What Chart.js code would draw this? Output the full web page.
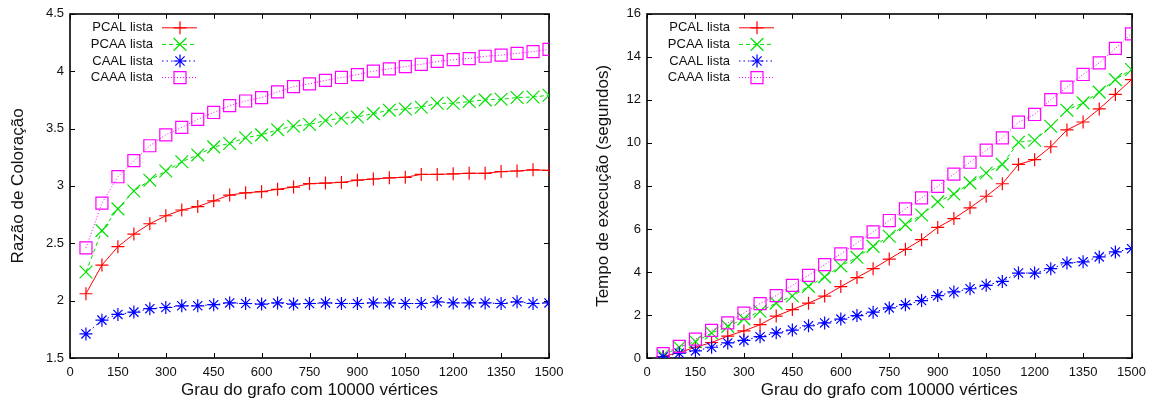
<!DOCTYPE html>
<html>
<head>
<meta charset="utf-8">
<title>Razão de coloração e tempo de execução</title>
<script src="https://cdn.jsdelivr.net/npm/chart.js@4.4.1/dist/chart.umd.min.js"></script>
<style>
  html, body { margin: 0; padding: 0; background: #fff; }
  #wrap { position: relative; width: 1153px; height: 403px; }
  .panel { position: absolute; top: 0; width: 576px; height: 403px; }
</style>
</head>
<body>
<div id="wrap">
  <div class="panel" style="left:0"><canvas id="ratioChart" width="576" height="403"></canvas></div>
  <div class="panel" style="left:577px"><canvas id="timeChart" width="576" height="403"></canvas></div>
</div>
<script>
// grau do grafo (10000 vértices)
var degrees = [50, 100, 150, 200, 250, 300, 350, 400, 450, 500, 550, 600, 650, 700, 750,
               800, 850, 900, 950, 1000, 1050, 1100, 1150, 1200, 1250, 1300, 1350, 1400, 1450, 1500];

var seriesNames = ['PCAL lista', 'PCAA lista', 'CAAL lista', 'CAAA lista'];

// razão de coloração
var ratioPCAL = [2.06, 2.31, 2.47, 2.58, 2.67, 2.74, 2.79, 2.82, 2.87, 2.92, 2.94, 2.95, 2.97, 2.99, 3.02,
                 3.025, 3.03, 3.05, 3.06, 3.07, 3.075, 3.10, 3.10, 3.105, 3.11, 3.11, 3.125, 3.13, 3.14, 3.135];
var ratioPCAA = [2.25, 2.61, 2.80, 2.955, 3.05, 3.13, 3.21, 3.27, 3.34, 3.37, 3.42, 3.445, 3.49, 3.52, 3.535,
                 3.57, 3.59, 3.60, 3.63, 3.66, 3.67, 3.685, 3.72, 3.72, 3.735, 3.75, 3.755, 3.77, 3.775, 3.79];
var ratioCAAL = [1.71, 1.83, 1.88, 1.90, 1.93, 1.94, 1.955, 1.955, 1.965, 1.98, 1.975, 1.97, 1.98, 1.97, 1.975,
                 1.98, 1.975, 1.975, 1.98, 1.98, 1.975, 1.975, 1.99, 1.98, 1.98, 1.98, 1.975, 1.99, 1.975, 1.98];
var ratioCAAA = [2.46, 2.85, 3.08, 3.22, 3.35, 3.445, 3.51, 3.58, 3.64, 3.70, 3.74, 3.77, 3.82, 3.865, 3.89,
                 3.92, 3.945, 3.97, 4.00, 4.02, 4.04, 4.06, 4.085, 4.10, 4.11, 4.13, 4.14, 4.155, 4.17, 4.19];

// tempo de execução (segundos)
var timePCAL = [0.07, 0.26, 0.50, 0.72, 1.02, 1.26, 1.55, 1.95, 2.25, 2.55, 2.88, 3.32, 3.74, 4.15, 4.60,
                5.05, 5.50, 6.07, 6.48, 6.98, 7.52, 8.10, 9.00, 9.22, 9.82, 10.60, 10.97, 11.58, 12.25, 12.94];
var timePCAA = [0.12, 0.50, 0.77, 1.16, 1.47, 1.82, 2.17, 2.55, 2.88, 3.33, 3.77, 4.28, 4.68, 5.19, 5.66,
                6.20, 6.65, 7.26, 7.62, 8.14, 8.60, 9.00, 10.03, 10.12, 10.77, 11.52, 11.86, 12.36, 12.94, 13.41];
var timeCAAL = [0.05, 0.22, 0.33, 0.50, 0.70, 0.82, 0.99, 1.17, 1.30, 1.50, 1.63, 1.81, 1.97, 2.13, 2.33,
                2.48, 2.67, 2.90, 3.07, 3.22, 3.38, 3.56, 3.95, 3.95, 4.15, 4.42, 4.47, 4.70, 4.93, 5.08];
var timeCAAA = [0.20, 0.54, 0.88, 1.28, 1.63, 2.09, 2.53, 2.90, 3.38, 3.84, 4.34, 4.84, 5.35, 5.86, 6.39,
                6.93, 7.44, 7.98, 8.55, 9.10, 9.66, 10.23, 10.96, 11.32, 12.01, 12.59, 13.18, 13.72, 14.39, 15.07];

var xTicks = { min: 0, max: 1500, step: 150 };
var ratioTicks = { min: 1.5, max: 4.5, step: 0.5 };
var timeTicks = { min: 0, max: 16, step: 2 };

var FONT = '"Liberation Sans", Arial, Helvetica, sans-serif';

// line / marker look of each series, in the order of seriesNames
var looks = [
  { color: '#ff0000', dash: [], style: 'cross', radius: 6.5 },
  { color: '#00e000', dash: [4, 3], style: 'crossRot', radius: 9 },
  { color: '#0000ff', dash: [1.5, 3], style: 'star', radius: 6.5 },
  { color: '#ff00ff', dash: [1, 2], style: 'rect', radius: 8.5 }
];

function toPoints(values) {
  return values.map(function (v, i) { return { x: degrees[i], y: v }; });
}

// plain numbers, no thousands separator and no forced decimals
function plainLabel(value) {
  return String(Math.round(value * 100) / 100);
}

// gnuplot style box with inward ticks on every side
var framePlugin = {
  id: 'frame',
  beforeDatasetsDraw: function (chart) {
    var ctx = chart.ctx, a = chart.chartArea;
    var xs = chart.scales.x, ys = chart.scales.y;
    var len = 5;
    ctx.save();
    ctx.strokeStyle = '#000';
    ctx.lineWidth = 1;
    ctx.beginPath();
    xs.ticks.forEach(function (t) {
      var px = Math.round(xs.getPixelForValue(t.value)) + 0.5;
      ctx.moveTo(px, a.bottom); ctx.lineTo(px, a.bottom - len);
      ctx.moveTo(px, a.top); ctx.lineTo(px, a.top + len);
    });
    ys.ticks.forEach(function (t) {
      var py = Math.round(ys.getPixelForValue(t.value)) + 0.5;
      ctx.moveTo(a.left, py); ctx.lineTo(a.left + len, py);
      ctx.moveTo(a.right, py); ctx.lineTo(a.right - len, py);
    });
    ctx.stroke();
    ctx.lineWidth = 1.6;
    ctx.strokeRect(Math.round(a.left), Math.round(a.top),
                   Math.round(a.right - a.left), Math.round(a.bottom - a.top));
    ctx.restore();
  }
};

// key in the upper left corner: label, then a line sample with its marker
var keyPlugin = {
  id: 'key',
  afterDatasetsDraw: function (chart) {
    var ctx = chart.ctx, a = chart.chartArea;
    ctx.save();
    chart.data.datasets.forEach(function (ds, i) {
      var y = a.top + 14 + i * 16.6;
      ctx.font = '13px ' + FONT;
      ctx.fillStyle = '#111';
      ctx.textAlign = 'right';
      ctx.textBaseline = 'middle';
      ctx.fillText(ds.label, a.left + 83, y);

      ctx.strokeStyle = ds.borderColor;
      ctx.lineWidth = ds.borderWidth;
      ctx.setLineDash(ds.borderDash);
      ctx.beginPath();
      ctx.moveTo(a.left + 92, y);
      ctx.lineTo(a.left + 127, y);
      ctx.stroke();
      ctx.setLineDash([]);

      if (Chart.helpers && Chart.helpers.drawPoint) {
        ctx.fillStyle = 'rgba(0,0,0,0)';
        ctx.lineWidth = ds.pointBorderWidth;
        Chart.helpers.drawPoint(ctx, {
          pointStyle: ds.pointStyle,
          radius: ds.pointRadius,
          borderWidth: ds.pointBorderWidth,
          rotation: 0
        }, a.left + 110, y);
      }
    });
    ctx.restore();
  }
};

function makeChart(canvasId, series, yRange, yTitle, rightPad, yTitlePad) {
  var datasets = series.map(function (values, i) {
    var lk = looks[i];
    return {
      label: seriesNames[i],
      data: toPoints(values),
      borderColor: lk.color,
      borderWidth: 1,
      borderDash: lk.dash,
      pointStyle: lk.style,
      pointRadius: lk.radius,
      pointBorderColor: lk.color,
      pointBackgroundColor: 'rgba(0,0,0,0)',
      pointBorderWidth: 1.2,
      tension: 0,
      order: series.length - 1 - i
    };
  });

  return new Chart(document.getElementById(canvasId), {
    type: 'line',
    data: { datasets: datasets },
    options: {
      responsive: false,
      animation: false,
      layout: { padding: { left: 0, right: rightPad, top: 13, bottom: 0 } },
      plugins: { legend: { display: false }, tooltip: { enabled: false } },
      scales: {
        x: {
          type: 'linear',
          min: xTicks.min,
          max: xTicks.max,
          grid: { display: false, drawTicks: false },
          border: { display: false },
          ticks: { stepSize: xTicks.step, padding: 7, color: '#111', font: { size: 13, family: FONT },
                   maxRotation: 0, callback: plainLabel },
          title: { display: true, text: 'Grau do grafo com 10000 vértices', color: '#111',
                   font: { size: 17, family: FONT }, padding: { top: 0, bottom: 2 } },
          afterFit: function (scale) { scale.height = 45; }
        },
        y: {
          min: yRange.min,
          max: yRange.max,
          grid: { display: false, drawTicks: false },
          border: { display: false },
          ticks: { stepSize: yRange.step, padding: 6, color: '#111', font: { size: 13, family: FONT },
                   callback: plainLabel },
          title: { display: true, text: yTitle, color: '#111',
                   font: { size: 17, family: FONT }, padding: { top: yTitlePad, bottom: 0 } },
          afterFit: function (scale) { scale.width = 70; }
        }
      }
    },
    plugins: [framePlugin, keyPlugin]
  });
}

makeChart('ratioChart', [ratioPCAL, ratioPCAA, ratioCAAL, ratioCAAA], ratioTicks, 'Razão de Coloração', 27, 8);
makeChart('timeChart', [timePCAL, timePCAA, timeCAAL, timeCAAA], timeTicks, 'Tempo de execução (segundos)', 19, 16);
</script>
</body>
</html>
